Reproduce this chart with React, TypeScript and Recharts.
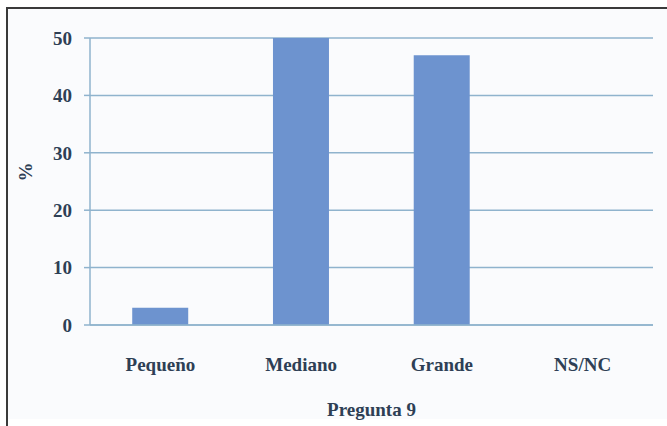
import { BarChart, Bar, XAxis, YAxis, CartesianGrid } from 'recharts';

// Valori
const categories = ['Pequeño', 'Mediano', 'Grande', 'NS/NC'];
const percentages = [3, 50, 47, 0];
const yTicks = [0, 10, 20, 30, 40, 50];

const chartData = categories.map((name, i) => ({ name, value: percentages[i] }));

const textColor = '#2e3f55';
const lineColor = '#8fb3cd';
const fontFamily = '"Liberation Serif", "DejaVu Serif", serif';
const fontSize = 19;

export default function App() {
  return (
    <div style={{ position: 'absolute', left: 0, top: 0, width: 667, height: 426, background: '#fff', overflow: 'hidden' }}>
      {/* Cornice esterna */}
      <div
        style={{
          position: 'absolute',
          left: 6,
          top: 7,
          width: 700,
          height: 410,
          borderLeft: '2px solid #3a3a3a',
          borderTop: '2px solid #3a3a3a',
          background: '#fafbfd',
        }}
      />
      <div style={{ position: 'absolute', left: 6, top: 417, width: 2, height: 20, background: '#3a3a3a' }} />
      <div style={{ position: 'absolute', left: 0, top: 0 }}>
        <BarChart
          width={667}
          height={426}
          data={chartData}
          margin={{ top: 38, right: 14, bottom: 8, left: 18 }}
          barCategoryGap="30%"
        >
          <CartesianGrid vertical={false} stroke={lineColor} strokeWidth={1.5} />
          <XAxis
            dataKey="name"
            height={93}
            axisLine={{ stroke: lineColor, strokeWidth: 1.5 }}
            tickLine={false}
            tickSize={0}
            tickMargin={33}
            tick={{ fill: textColor, fontSize, fontWeight: 'bold', fontFamily }}
            label={{
              value: 'Pregunta 9',
              position: 'insideBottom',
              offset: 2,
              fill: textColor,
              fontSize,
              fontWeight: 'bold',
              fontFamily,
            }}
          />
          <YAxis
            width={72}
            domain={[0, 50]}
            ticks={yTicks}
            interval={0}
            axisLine={{ stroke: lineColor, strokeWidth: 1.5 }}
            tickLine={{ stroke: lineColor, strokeWidth: 1.5 }}
            tickSize={6}
            tickMargin={12}
            tick={{ fill: textColor, fontSize, fontWeight: 'bold', fontFamily }}
            label={{
              value: '%',
              angle: -90,
              position: 'insideLeft',
              offset: 7,
              fill: textColor,
              fontSize,
              fontWeight: 'bold',
              fontFamily,
            }}
          />
          <Bar dataKey="value" fill="#6d93cf" isAnimationActive={false} />
        </BarChart>
      </div>
    </div>
  );
}
